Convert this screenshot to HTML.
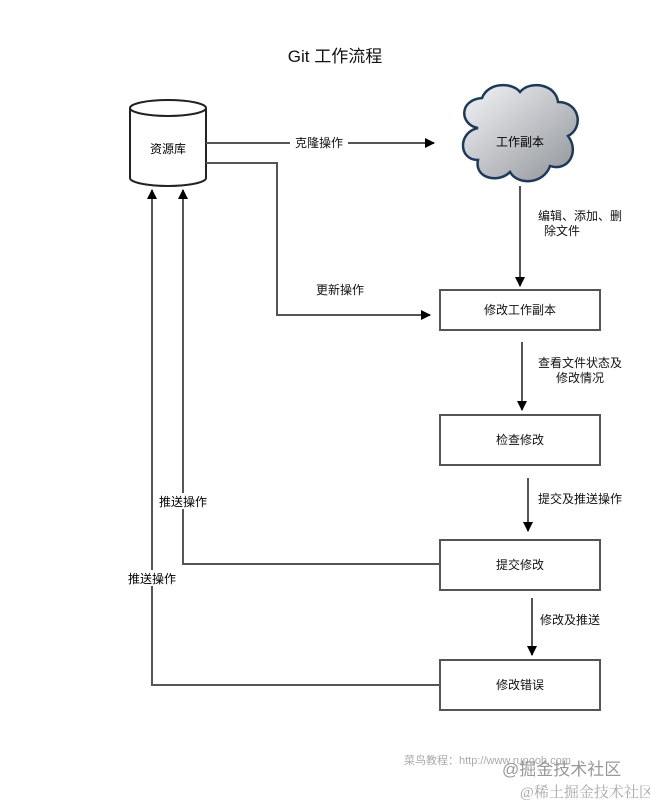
<!DOCTYPE html>
<html><head><meta charset="utf-8"><style>
html,body{margin:0;padding:0;background:#fff;}
svg{display:block;font-family:"Liberation Sans","Noto Sans CJK SC",sans-serif;}
</style></head><body>
<svg width="650" height="800" viewBox="0 0 650 800" xmlns="http://www.w3.org/2000/svg">
<defs>
<linearGradient id="cg" x1="0" y1="0" x2="1" y2="1">
<stop offset="0" stop-color="#f4f5f7"/><stop offset="1" stop-color="#8e9298"/>
</linearGradient>
<marker id="ah" markerWidth="10" markerHeight="10" refX="9" refY="5" orient="auto" markerUnits="userSpaceOnUse">
<path d="M0,0 L10,5 L0,10 z" fill="#000"/>
</marker>
</defs>
<text x="335" y="62" font-size="17" text-anchor="middle" fill="#111">Git 工作流程</text>

<!-- cylinder -->
<path d="M130,108 L130,178 A38,8 0 0 0 206,178 L206,108" fill="#fff" stroke="#222" stroke-width="2"/>
<ellipse cx="168" cy="108" rx="38" ry="8" fill="#fff" stroke="#222" stroke-width="2"/>
<text x="168" y="153" font-size="12" text-anchor="middle">资源库</text>

<!-- cloud -->
<path d="M478,128 C460,125 458,100 482,98 C488,82 512,82 520,92 C530,80 556,84 558,102 C580,102 584,128 568,136 C580,152 568,172 550,166 C544,184 518,186 510,172 C498,184 474,178 478,160 C458,160 458,132 478,128 Z" fill="url(#cg)" stroke="#1e3a5a" stroke-width="2.5"/>
<text x="520" y="146" font-size="12" text-anchor="middle">工作副本</text>

<g stroke="#555" stroke-width="2" fill="none">
<line x1="206" y1="143" x2="290" y2="143"/>
<line x1="348" y1="143" x2="434" y2="143" marker-end="url(#ah)"/>
<polyline points="206,163 277,163 277,315 430,315" marker-end="url(#ah)"/>
<line x1="520" y1="186" x2="520" y2="286" marker-end="url(#ah)"/>
<line x1="522" y1="342" x2="522" y2="410" marker-end="url(#ah)"/>
<line x1="528" y1="478" x2="528" y2="531" marker-end="url(#ah)"/>
<line x1="532" y1="598" x2="532" y2="655" marker-end="url(#ah)"/>
<polyline points="440,564 183,564 183,190" marker-end="url(#ah)"/>
<polyline points="440,685 152,685 152,190" marker-end="url(#ah)"/>
</g>

<g fill="#fff" stroke="#555" stroke-width="2">
<rect x="440" y="290" width="160" height="40"/>
<rect x="440" y="415" width="160" height="50"/>
<rect x="440" y="540" width="160" height="50"/>
<rect x="440" y="660" width="160" height="50"/>
</g>

<g font-size="12" fill="#111">
<text x="520" y="314" text-anchor="middle">修改工作副本</text>
<text x="520" y="444" text-anchor="middle">检查修改</text>
<text x="520" y="569" text-anchor="middle">提交修改</text>
<text x="520" y="689" text-anchor="middle">修改错误</text>
<text x="319" y="147" text-anchor="middle">克隆操作</text>
<text x="340" y="294" text-anchor="middle">更新操作</text>
<text x="580" y="220" text-anchor="middle">编辑、添加、删</text>
<text x="562" y="235" text-anchor="middle">除文件</text>
<text x="580" y="367" text-anchor="middle">查看文件状态及</text>
<text x="580" y="382" text-anchor="middle">修改情况</text>
<text x="580" y="503" text-anchor="middle">提交及推送操作</text>
<text x="570" y="624" text-anchor="middle">修改及推送</text>
</g>
<rect x="158" y="493" width="50" height="16" fill="#fff"/>
<text x="183" y="506" font-size="12" text-anchor="middle">推送操作</text>
<rect x="127" y="570" width="52" height="16" fill="#fff"/>
<text x="152" y="583" font-size="12" text-anchor="middle">推送操作</text>

<text x="404" y="764" font-size="11" fill="#aaa">菜鸟教程：http://www.runoob.com</text>
<text x="502" y="775" font-size="17" fill="#999">@掘金技术社区</text>
<text x="520" y="797" font-size="15" fill="#aaa" font-family="Liberation Serif,Noto Serif CJK SC,serif">@稀土掘金技术社区</text>
</svg>
</body></html>
